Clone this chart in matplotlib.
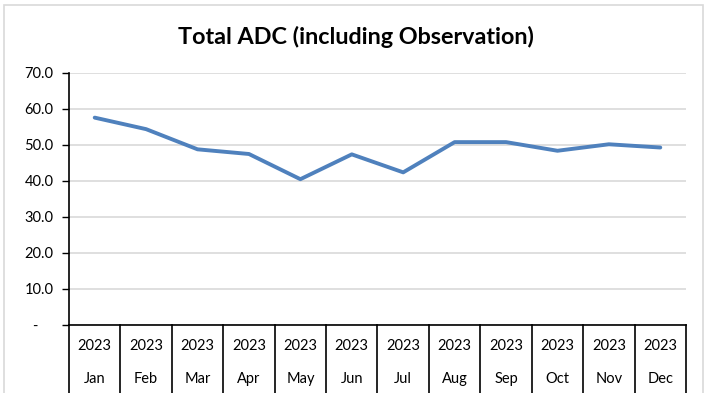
import matplotlib.pyplot as plt
from matplotlib.patches import Rectangle
from matplotlib.ticker import FuncFormatter
import matplotlib.transforms as mtransforms

plt.rcParams['font.family'] = ['Lato', 'DejaVu Sans']

# Monthly average daily census, 2023
months = ['Jan', 'Feb', 'Mar', 'Apr', 'May', 'Jun',
          'Jul', 'Aug', 'Sep', 'Oct', 'Nov', 'Dec']
years = ['2023'] * 12
adc = [57.6, 54.4, 48.8, 47.5, 40.5, 47.4, 42.4, 50.8, 50.8, 48.4, 50.2, 49.3]

fig = plt.figure(figsize=(7.10, 3.93), dpi=100)
ax = fig.add_axes([69 / 710, 1 - 325 / 393, 617 / 710, 252 / 393])

# light chart border
fig.patches.append(Rectangle((4 / 710, -0.1), 699 / 710, 1 - 5 / 393 + 0.1,
                             transform=fig.transFigure, fill=False,
                             edgecolor='#d9d9d9', linewidth=1.2))

x = list(range(len(months)))
ax.plot(x, adc, color='#4f81bd', linewidth=2.8, solid_capstyle='round')

ax.set_xlim(-0.5, len(months) - 0.5)
ax.set_ylim(0, 70)
ax.set_yticks(range(0, 71, 10))
ax.yaxis.set_major_formatter(FuncFormatter(lambda v, p: '-    ' if v == 0 else f'{v:.1f}'))
ax.tick_params(axis='y', length=5, width=1, color='black', labelsize=10.5, pad=6)
ax.set_xticks([])
ax.grid(axis='y', color='#d9d9d9', linewidth=1.2)
ax.set_axisbelow(True)

for side in ['top', 'right']:
    ax.spines[side].set_visible(False)
for side in ['left', 'bottom']:
    ax.spines[side].set_color('black')
    ax.spines[side].set_linewidth(1.2)

# two-level category axis: year row and month row
trans = mtransforms.blended_transform_factory(ax.transData, ax.transAxes)
row_year = -21 / 252
row_month = -54 / 252
for i, (yr, mo) in enumerate(zip(years, months)):
    ax.text(i, row_year, yr, transform=trans, ha='center', va='center', fontsize=10.5)
    ax.text(i, row_month, mo, transform=trans, ha='center', va='center', fontsize=10.5)
for b in range(len(months) + 1):
    ax.plot([b - 0.5, b - 0.5], [0, -0.3], transform=trans, color='black',
            linewidth=1.2, clip_on=False)

fig.text(356 / 710, 1 - 37 / 393, 'Total ADC (including Observation)',
         ha='center', va='center', fontsize=16.8, fontweight='bold')

fig.savefig('out.png', dpi=100)
